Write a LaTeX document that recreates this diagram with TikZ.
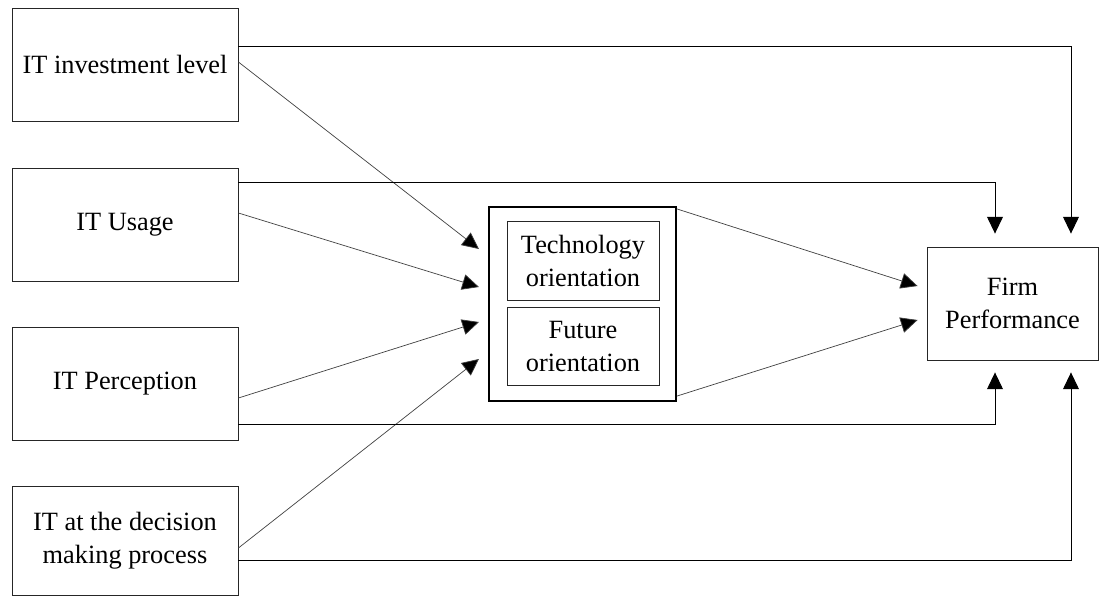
\documentclass[tikz,border=0pt]{standalone}
\usepackage{fontspec}
\setmainfont{Liberation Serif}
\usetikzlibrary{positioning, arrows.meta, calc}
\tikzset{
    >={Triangle[length=9.5pt,width=9pt,fill=black]}, % solid black heads
    factor/.style={draw=black!85, line width=0.5pt, minimum width=4.52cm, minimum height=2.26cm, align=center},
    orient/.style={draw=black!85, line width=0.45pt, minimum width=3.04cm, minimum height=1.57cm, align=center},
    link/.style={->, line width=0.4pt, draw=black!75},
    route/.style={->, line width=0.5pt, draw=black}
}

\begin{document}
\begin{tikzpicture}[x=0.02cm, y=-0.02cm, every node/.style={font=\fontsize{15}{19}\selectfont}]
    \useasboundingbox (0,0) rectangle (1100,596);

    % left column of IT factors
    \node[factor] (inv) at (125,64.5) {IT investment level};
    \node[factor] (use) at (125,224.5) {IT Usage};
    \node[factor] (perc) at (125,384) {IT Perception};
    \node[factor, minimum height=2.18cm] (dec) at (125,540.5) {IT at the decision\\making process};

    % mediating orientations
    \node[draw, line width=1.2pt, minimum width=3.74cm, minimum height=3.88cm] (orient) at (582.5,304) {};
    \node[orient] (tech) at (583,261) {Technology\\orientation};
    \node[orient] (fut) at (583,346.5) {Future\\orientation};

    % outcome
    \node[factor, minimum width=3.42cm] (firm) at (1012.5,303.5) {Firm\\Performance};

    % factors -> orientation
    \draw[link] ([yshift=0.05cm]inv.east) -- ([xshift=-0.18cm,yshift=1.1cm]orient.west);
    \draw[link] ([yshift=0.23cm]use.east) -- ([xshift=-0.18cm,yshift=0.34cm]orient.west);
    \draw[link] ([yshift=-0.28cm]perc.east) -- ([xshift=-0.18cm,yshift=-0.36cm]orient.west);
    \draw[link] ([yshift=-0.15cm]dec.east) -- ([xshift=-0.18cm,yshift=-1.1cm]orient.west);

    % orientation -> performance
    \draw[link] ([yshift=-0.06cm]orient.north east) -- ([xshift=-0.18cm,yshift=0.35cm]firm.west);
    \draw[link] ([yshift=0.12cm]orient.south east) -- ([xshift=-0.18cm,yshift=-0.33cm]firm.west);

    % direct effects
    \draw[route] ([yshift=0.37cm]inv.east) -| ([xshift=1.17cm,yshift=0.26cm]firm.north);
    \draw[route] ([yshift=0.85cm]use.east) -| ([xshift=-0.35cm,yshift=0.26cm]firm.north);
    \draw[route] ([yshift=-0.8cm]perc.east) -| ([xshift=-0.35cm,yshift=-0.24cm]firm.south);
    \draw[route] ([yshift=-0.39cm]dec.east) -| ([xshift=1.17cm,yshift=-0.24cm]firm.south);
\end{tikzpicture}
\end{document}
